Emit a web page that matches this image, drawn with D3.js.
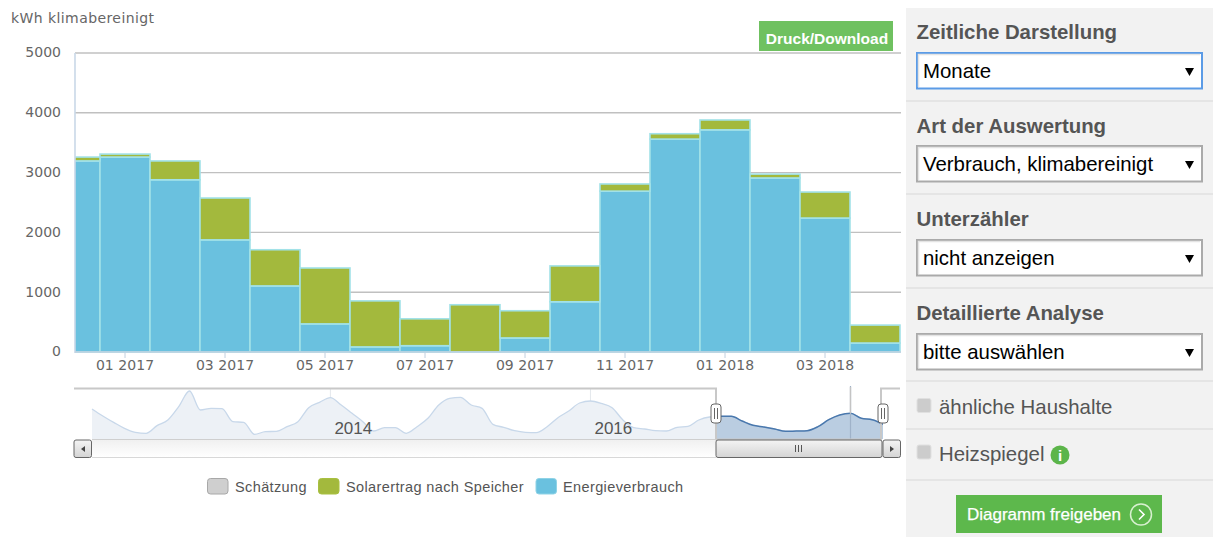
<!DOCTYPE html>
<html>
<head>
<meta charset="utf-8">
<script src="https://cdn.jsdelivr.net/npm/d3@7"></script>
<style>
html, body { margin: 0; padding: 0; background: #fff; overflow: hidden; }
svg { display: block; }
.sans { font-family: "Liberation Sans", Arial, sans-serif; }
.axis text { font-family: "DejaVu Sans", sans-serif; font-size: 14px; fill: #666; }
</style>
</head>
<body>
<svg id="chart" width="1220" height="537"></svg>
<script>
var months = ["12 2016", "01 2017", "02 2017", "03 2017", "04 2017", "05 2017", "06 2017", "07 2017", "08 2017",
    "09 2017", "10 2017", "11 2017", "12 2017", "01 2018", "02 2018", "03 2018", "04 2018"];
var energie = [3195, 3260, 2880, 1875, 1105, 470, 85, 105, 0, 235, 840, 2690, 3560, 3715, 2910, 2240, 150];
var solar = [65, 50, 315, 700, 605, 935, 770, 450, 790, 455, 600, 120, 90, 165, 65, 435, 300];
var monthTicks = ["01 2017", "03 2017", "05 2017", "07 2017", "09 2017", "11 2017", "01 2018", "03 2018"];
var yTicks = [0, 1000, 2000, 3000, 4000, 5000];

// navigator series, one value per month from 03 2012 to 04 2018
var overview = [4500, 3450, 2500, 1600, 1000, 850, 2000, 2850, 4850, 7200, 4350, 4600, 4550, 2600, 2500, 700, 1100, 1150,
    1850, 2600, 4700, 5500, 6200, 5100, 3850, 2600, 1200, 1700, 1700, 850, 1850, 3100, 5100, 6100, 6250, 5100, 4600, 2200,
    1750, 1250, 1000, 950, 1850, 3200, 4200, 5400, 5700, 5350, 4700, 2850, 1700, 1500, 1250, 1200, 1750, 1900, 2850, 3300,
    3400, 3400, 2700, 2050, 1800, 1500, 1150, 1200, 1250, 1850, 2900, 3600, 3850, 3100, 2900, 2200];
var yearIdx = [22, 46, 70];
var yearLabels = ["2014", "2016", ""];

var legendNames = ["Schätzung", "Solarertrag nach Speicher", "Energieverbrauch"];
var legendColors = ["#cfcfcf", "#a3b93d", "#6ac1df"];
var legendStroke = ["#a8a8a8", "#a8c040", "#8fd3e6"];

var panelTitles = ["Zeitliche Darstellung", "Art der Auswertung", "Unterzähler", "Detaillierte Analyse"];
var panelValues = ["Monate", "Verbrauch, klimabereinigt", "nicht anzeigen", "bitte auswählen"];

var svg = d3.select("#chart");

var scX = d3.scaleBand().domain(months).range([50, 900]);
var scY = d3.scaleLinear().domain([0, 5000]).range([352, 53]);

svg.append("defs").append("clipPath").attr("id", "plotClip")
    .append("rect").attr("x", 75).attr("y", 40).attr("width", 826).attr("height", 313);

// y axis + grid
var yAxis = svg.append("g").attr("class", "axis")
    .attr("transform", "translate(75,0)")
    .call(d3.axisLeft(scY).tickValues(yTicks).tickFormat(d3.format("d")).tickSize(0).tickPadding(14));
yAxis.select(".domain").remove();
yAxis.selectAll("text").attr("dy", "0.28em");

svg.selectAll("line.grid")
    .data(yTicks.filter(d => d > 0))
    .enter().append("line")
    .attr("class", "grid")
    .attr("stroke", "#c0c0c0").attr("stroke-width", 1.4)
    .attr("x1", 75).attr("x2", 901)
    .attr("y1", d => scY(d)).attr("y2", d => scY(d));

// stacked bars
var rows = months.map((m, i) => ({ month: m, energie: energie[i], solar: solar[i] }));
var stacked = d3.stack().keys(["energie", "solar"])(rows);
var barColors = { energie: "#6ac1df", solar: "#a3b93d" };

svg.append("g").attr("clip-path", "url(#plotClip)")
    .selectAll("g")
    .data(stacked)
    .enter().append("g")
    .attr("fill", d => barColors[d.key])
    .selectAll("rect")
    .data(d => d)
    .enter().append("rect")
    .attr("stroke", "#a2e2e8").attr("stroke-width", 1.6)
    .attr("x", d => scX(d.data.month))
    .attr("width", scX.bandwidth())
    .attr("y", d => scY(d[1]))
    .attr("height", d => scY(d[0]) - scY(d[1]));

svg.append("line").attr("x1", 75).attr("x2", 75).attr("y1", 53).attr("y2", 353)
    .attr("stroke", "#c9d8e8").attr("stroke-width", 1.6);

// x axis
var xAxis = svg.append("g").attr("class", "axis")
    .attr("transform", "translate(0,352)")
    .call(d3.axisBottom(scX).tickValues(monthTicks).tickSize(6).tickPadding(2));
xAxis.select(".domain").remove();
xAxis.selectAll("line").attr("stroke", "#c0d0e0");
xAxis.append("line").attr("x1", 75).attr("x2", 901)
    .attr("stroke", "#c0d0e0").attr("stroke-width", 1.6);
xAxis.selectAll("text").attr("letter-spacing", 0.05);

svg.append("text").attr("x", 11).attr("y", 23)
    .attr("font-family", "DejaVu Sans").attr("font-size", 14).attr("fill", "#666")
    .attr("letter-spacing", 0.42)
    .text("kWh klimabereinigt");

// download button
svg.append("rect").attr("x", 759).attr("y", 21).attr("width", 134).attr("height", 30).attr("fill", "#6fc160");
svg.append("text").attr("class", "sans").attr("x", 827).attr("y", 43.5).attr("text-anchor", "middle")
    .attr("font-size", 15.5).attr("font-weight", "bold").attr("fill", "#fff")
    .text("Druck/Download");

// navigator
var navX = d3.scaleLinear().domain([0, overview.length - 1]).range([92, 883]);
var navY = d3.scaleLinear().domain([0, 7200]).range([439, 391]);
var selLeft = 716, selRight = 883;

var navArea = d3.area().x((d, i) => navX(i)).y0(navY(0)).y1(d => navY(d)).curve(d3.curveMonotoneX);
var navLine = d3.line().x((d, i) => navX(i)).y(d => navY(d)).curve(d3.curveMonotoneX);

svg.select("defs").append("clipPath").attr("id", "navSel")
    .append("rect").attr("x", selLeft).attr("y", 385).attr("width", selRight - selLeft).attr("height", 56);

svg.selectAll("line.yearline")
    .data(yearIdx)
    .enter().append("line")
    .attr("class", "yearline")
    .attr("x1", d => navX(d)).attr("x2", d => navX(d))
    .attr("y1", 389).attr("y2", 439)
    .attr("stroke", "#e4e8ec");

svg.append("path").datum(overview).attr("d", navArea).attr("fill", "#edf1f6");
svg.append("path").datum(overview).attr("d", navLine).attr("fill", "none").attr("stroke", "#c8d8ea").attr("stroke-width", 1.3);

var selG = svg.append("g").attr("clip-path", "url(#navSel)");
selG.append("path").datum(overview).attr("d", navArea).attr("fill", "#bacde1");
selG.append("path").datum(overview).attr("d", navLine).attr("fill", "none").attr("stroke", "#4a78ad").attr("stroke-width", 1.5);
selG.append("line").attr("x1", navX(70)).attr("x2", navX(70)).attr("y1", 386).attr("y2", 439)
    .attr("stroke", "#9fb2c9").attr("stroke-width", 1.2);
svg.append("line").attr("x1", navX(70)).attr("x2", navX(70)).attr("y1", 387).attr("y2", navY(overview[70]))
    .attr("stroke", "#c4c4c4").attr("stroke-width", 1.4);

svg.selectAll("text.year")
    .data(yearIdx)
    .enter().append("text")
    .attr("class", "year sans")
    .attr("x", d => navX(d) + 4)
    .attr("y", 434)
    .attr("font-size", 17).attr("fill", "#555")
    .text((d, i) => yearLabels[i]);

// scrollbar
var trackGrad = svg.select("defs").append("linearGradient").attr("id", "trackGrad").attr("x2", 0).attr("y2", 1);
trackGrad.append("stop").attr("offset", 0).attr("stop-color", "#f0f0f0");
trackGrad.append("stop").attr("offset", 1).attr("stop-color", "#ffffff");
var thumbGrad = svg.select("defs").append("linearGradient").attr("id", "thumbGrad").attr("x2", 0).attr("y2", 1);
thumbGrad.append("stop").attr("offset", 0).attr("stop-color", "#f4f4f4");
thumbGrad.append("stop").attr("offset", 1).attr("stop-color", "#d4d4d4");

svg.append("rect").attr("x", 92).attr("y", 440).attr("width", 624).attr("height", 17.5).attr("fill", "url(#trackGrad)");
svg.append("line").attr("x1", 92).attr("x2", 716).attr("y1", 457.5).attr("y2", 457.5).attr("stroke", "#d8d8d8");

// navigator outline
svg.append("path")
    .attr("d", d3.line()([[74, 388.5], [716, 388.5], [716, 439.5], [881, 439.5], [881, 388.5], [900, 388.5]]))
    .attr("fill", "none").attr("stroke", "#c8c8c8").attr("stroke-width", 2);
svg.append("line").attr("x1", 92).attr("x2", 716).attr("y1", 439.5).attr("y2", 439.5).attr("stroke", "#cfcfcf");

svg.append("rect").attr("x", 716).attr("y", 440).attr("width", 166).attr("height", 17.5).attr("rx", 2)
    .attr("fill", "url(#thumbGrad)").attr("stroke", "#666");
[-3, 0, 3].forEach(function (dx) {
    svg.append("line").attr("x1", 798.5 + dx).attr("x2", 798.5 + dx).attr("y1", 445).attr("y2", 452).attr("stroke", "#555");
});
[[74, -1], [883, 1]].forEach(function (b) {
    svg.append("rect").attr("x", b[0]).attr("y", 440).attr("width", 17.5).attr("height", 17.5).attr("rx", 2)
        .attr("fill", "url(#thumbGrad)").attr("stroke", "#666");
    var cx = b[0] + 9;
    svg.append("path")
        .attr("d", d3.line()([[cx + 2 * b[1], 449], [cx - 2 * b[1], 446], [cx - 2 * b[1], 452]]) + "Z")
        .attr("fill", "#444");
});

// navigator handles
[selLeft, selRight].forEach(function (x) {
    svg.append("rect").attr("x", x - 5).attr("y", 404).attr("width", 10).attr("height", 19).attr("rx", 3)
        .attr("fill", "#fff").attr("stroke", "#666");
    [-1.5, 1.5].forEach(function (dx) {
        svg.append("line").attr("x1", x + dx).attr("x2", x + dx).attr("y1", 408).attr("y2", 419).attr("stroke", "#666");
    });
});

// legend
var legendSwatchX = [207.5, 318.5, 536];
var legendTextX = [235, 346, 563];
var legend = svg.selectAll("g.legend")
    .data(legendNames)
    .enter().append("g")
    .attr("class", "legend");
legend.append("rect")
    .attr("x", (d, i) => legendSwatchX[i]).attr("y", 478.5)
    .attr("width", 20.5).attr("height", 15.5).attr("rx", 3)
    .attr("fill", (d, i) => legendColors[i])
    .attr("stroke", (d, i) => legendStroke[i]);
legend.append("text")
    .attr("class", "sans")
    .attr("x", (d, i) => legendTextX[i]).attr("y", 492)
    .attr("font-size", 14.5).attr("fill", "#555")
    .attr("letter-spacing", 0.38)
    .text(d => d);

// side panel
svg.append("rect").attr("x", 906).attr("y", 8).attr("width", 307).attr("height", 529).attr("fill", "#f2f2f2");
[101, 194, 288, 381, 429, 480].forEach(function (y) {
    svg.append("line").attr("x1", 906).attr("x2", 1213).attr("y1", y).attr("y2", y)
        .attr("stroke", "#e0e0e0").attr("stroke-width", 1.6);
});

var boxY = [53, 146, 240, 334];
var titleY = [39, 133, 226, 320];
panelTitles.forEach(function (t, i) {
    svg.append("text").attr("class", "sans").attr("x", 916.5).attr("y", titleY[i])
        .attr("font-size", 20.4).attr("font-weight", "bold").attr("fill", "#555").text(t);
    svg.append("rect").attr("x", 917).attr("y", boxY[i]).attr("width", 285).attr("height", 35.5)
        .attr("fill", "#fff")
        .attr("stroke", i == 0 ? "#5b9be6" : "#aaaaaa").attr("stroke-width", 2);
    svg.append("path")
        .attr("d", d3.line()([[918.5, boxY[i] + 34], [918.5, boxY[i] + 1.5], [1200, boxY[i] + 1.5]]))
        .attr("fill", "none").attr("stroke", "#e4e4e4").attr("stroke-width", 1.5);
    svg.append("text").attr("class", "sans").attr("x", 923).attr("y", boxY[i] + 25)
        .attr("font-size", 20.4).attr("fill", "#000").text(panelValues[i]);
    svg.append("path")
        .attr("d", d3.line()([[1185, boxY[i] + 15], [1194, boxY[i] + 15], [1189.5, boxY[i] + 23]]) + "Z")
        .attr("fill", "#000");
});

// checkboxes
[["ähnliche Haushalte", 405.5, 414], ["Heizspiegel", 452, 461]].forEach(function (c) {
    svg.append("rect").attr("x", 917).attr("y", c[1] - 7).attr("width", 14).attr("height", 14).attr("rx", 2)
        .attr("fill", "#cccccc").attr("stroke", "#e0e0e0");
    svg.append("text").attr("class", "sans").attr("x", 939).attr("y", c[2])
        .attr("font-size", 20.4).attr("fill", "#555").text(c[0]);
});

svg.append("circle").attr("cx", 1060).attr("cy", 455).attr("r", 9.5).attr("fill", "#5cb54a");
svg.append("text").attr("class", "sans").attr("x", 1060).attr("y", 461).attr("text-anchor", "middle")
    .attr("font-size", 15).attr("font-weight", "bold").attr("fill", "#fff").text("i");

// share button
svg.append("rect").attr("x", 956).attr("y", 495).attr("width", 206).attr("height", 38).attr("fill", "#5db84c");
svg.append("text").attr("class", "sans").attr("x", 967).attr("y", 520)
    .attr("font-size", 17).attr("fill", "#fff").attr("stroke", "#fff").attr("stroke-width", 0.25)
    .text("Diagramm freigeben");
svg.append("circle").attr("cx", 1141).attr("cy", 514.5).attr("r", 10.5)
    .attr("fill", "none").attr("stroke", "#d8f0d0").attr("stroke-width", 1.5);
svg.append("path").attr("d", d3.line()([[1139, 509.5], [1144, 514.5], [1139, 519.5]]))
    .attr("fill", "none").attr("stroke", "#fff").attr("stroke-width", 1.6);
</script>
</body>
</html>
